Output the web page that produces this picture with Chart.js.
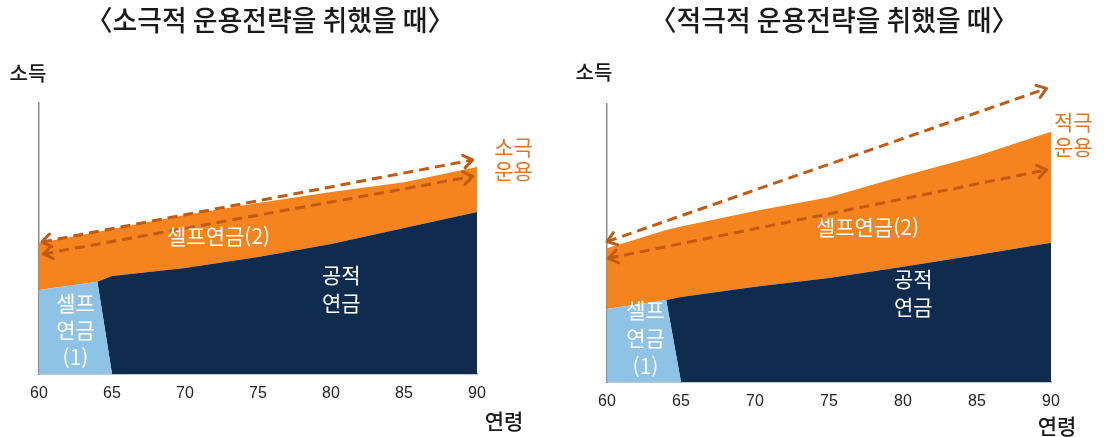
<!DOCTYPE html>
<html lang="ko">
<head>
<meta charset="utf-8">
<title>운용전략별 노후 소득</title>
<script src="https://cdn.jsdelivr.net/npm/chart.js@4.4.1/dist/chart.umd.min.js"></script>
<style>
  html, body { margin: 0; padding: 0; background: #fff; }
  .wrap { position: relative; width: 1104px; height: 437px; }
  canvas { position: absolute; top: 0; }
  #passive { left: 0; }
  #active { left: 552px; }
</style>
</head>
<body>
<div class="wrap">
  <canvas id="passive" width="552" height="437"></canvas>
  <canvas id="active" width="552" height="437"></canvas>
</div>
<script>
// 연령 (x축)
const ages = [60, 64, 65, 70, 75, 80, 85, 90];
const ageTicks = [60, 65, 70, 75, 80, 85, 90];

// 소극적 운용 : 셀프연금(1), 공적연금, 셀프연금(2) (누적)
const passiveSelf1 = [31, 34, 0, 0, 0, 0, 0, 0];
const passivePublic = [0, 0, 36.2, 39.1, 43.2, 48, 53.9, 59.8];
const passiveSelf2 = [17.3, 18.4, 17.3, 19.6, 19.9, 19.2, 16.9, 16.6];
const passiveArrowTop = [[60.2, 48.7], [89.7, 79.0]];
const passiveArrowBottom = [[60.3, 44.3], [89.7, 72.9]];

// 적극적 운용
const activeSelf1 = [26.3, 29.5, 0, 0, 0, 0, 0, 0];
const activePublic = [0, 0, 30.6, 34.3, 37.4, 41.5, 45.7, 50.1];
const activeSelf2 = [21.8, 25.2, 25.3, 27.2, 29.1, 32.6, 35.6, 39.9];
const activeArrowTop = [[60.0, 50.5], [89.7, 105.6]];
const activeArrowBottom = [[60.1, 44.5], [89.7, 76.3]];

const FONT = '"Noto Sans CJK KR", "Noto Sans", sans-serif';
const C_SELF1 = '#8ec3e6';
const C_PUBLIC = '#0f2b4e';
const C_SELF2 = '#f5841f';
const C_ARROW = '#c25a14';
const C_ORANGE_TEXT = '#d9782e';
const C_AXIS = '#8c8c8c';

const toPoints = (xs, ys) => xs.map((x, i) => ({ x, y: ys[i] }));

// 점선 양끝 화살촉
const arrowHeads = {
  id: 'arrowHeads',
  afterDatasetsDraw(chart) {
    const ctx = chart.ctx;
    chart.data.datasets.forEach((ds, i) => {
      if (!ds.arrow) return;
      const pts = chart.getDatasetMeta(i).data;
      const a = pts[0], b = pts[pts.length - 1];
      ctx.save();
      ctx.strokeStyle = ds.borderColor;
      ctx.lineWidth = ds.borderWidth;
      ctx.lineCap = 'round';
      ctx.lineJoin = 'round';
      [[a, b], [b, a]].forEach(([tip, from]) => {
        const ang = Math.atan2(tip.y - from.y, tip.x - from.x);
        const len = 11, spread = 0.62;
        ctx.beginPath();
        ctx.moveTo(tip.x - len * Math.cos(ang - spread), tip.y - len * Math.sin(ang - spread));
        ctx.lineTo(tip.x, tip.y);
        ctx.lineTo(tip.x - len * Math.cos(ang + spread), tip.y - len * Math.sin(ang + spread));
        ctx.stroke();
      });
      ctx.restore();
    });
  }
};

// 영역 안 글자, 제목, 축 이름
const textLabels = {
  id: 'textLabels',
  afterDraw(chart, args, opts) {
    const { ctx } = chart;
    const { x, y } = chart.scales;
    ctx.save();
    ctx.textAlign = 'center';
    ctx.textBaseline = 'middle';
    const drawLines = (text, cx, cy, lh) => {
      const lines = text.split('\n');
      lines.forEach((ln, k) => ctx.fillText(ln, cx, cy + (k - (lines.length - 1) / 2) * lh));
    };
    opts.items.forEach(it => {
      ctx.font = `${it.weight || 400} ${it.size}px ${FONT}`;
      ctx.fillStyle = it.color;
      drawLines(it.text, x.getPixelForValue(it.x), y.getPixelForValue(it.y), it.lineHeight || it.size);
    });
    opts.captions.forEach(c => {
      ctx.font = `${c.weight || 400} ${c.size}px ${FONT}`;
      ctx.fillStyle = c.color || '#1a1a1a';
      ctx.save();
      ctx.translate(c.px, c.py);
      ctx.scale(c.squeeze || 1, 1);
      ctx.fillText(c.text, 0, 0);
      ctx.restore();
    });
    ctx.restore();
  }
};

function makeChart(id, self1, pub, self2, arrowTop, arrowBottom, pad, items, captions) {
  const area = (label, data, color, fill) => ({
    label, data: toPoints(ages, data), stack: 'income', order: 2,
    backgroundColor: color, borderWidth: 0, pointRadius: 0, fill, tension: 0
  });
  // 점선은 영역 위에 그려지도록 order를 낮게
  const arrow = (label, pts) => ({
    label, data: pts.map(p => ({ x: p[0], y: p[1] })), stack: label, arrow: true, order: 0,
    borderColor: C_ARROW, borderWidth: 3, borderDash: [10, 6], borderCapStyle: 'butt',
    pointRadius: 0, fill: false, clip: false
  });

  return new Chart(document.getElementById(id), {
    type: 'line',
    data: {
      datasets: [
        area('셀프연금(1)', self1, C_SELF1, 'origin'),
        area('공적연금', pub, C_PUBLIC, '-1'),
        area('셀프연금(2)', self2, C_SELF2, '-1'),
        arrow('arrowTop', arrowTop),
        arrow('arrowBottom', arrowBottom)
      ]
    },
    options: {
      responsive: false,
      animation: false,
      layout: { padding: pad },
      plugins: {
        legend: { display: false },
        tooltip: { enabled: false },
        textLabels: { items, captions }
      },
      scales: {
        x: {
          type: 'linear', min: 60, max: 90,
          afterBuildTicks: s => { s.ticks = ageTicks.map(v => ({ value: v })); },
          afterFit: s => { s.height = 40; },
          grid: { display: false, drawTicks: false },
          border: { display: true, color: C_AXIS, width: 1.5 },
          ticks: { padding: 10, color: '#222', font: { family: '"Liberation Sans", Arial, sans-serif', size: 16 } }
        },
        y: {
          stacked: true, min: 0, max: 100,
          afterFit: s => { s.width = 0; },
          grid: { display: false, drawTicks: false },
          border: { display: true, color: C_AXIS, width: 1.5 },
          ticks: { display: false }
        }
      }
    },
    plugins: [arrowHeads, textLabels]
  });
}

makeChart('passive', passiveSelf1, passivePublic, passiveSelf2, passiveArrowTop, passiveArrowBottom,
  { left: 39, right: 75, top: 103, bottom: 23 },
  [
    { text: '셀프연금(2)', x: 72.3, y: 50.9, size: 21, color: '#ffffff' },
    { text: '공적\n연금', x: 80.7, y: 31.5, size: 21, lineHeight: 28, color: '#ffffff' },
    { text: '셀프\n연금\n(1)', x: 62.5, y: 16.2, size: 21, lineHeight: 27, color: '#ffffff' },
    { text: '소극\n운용', x: 92.5, y: 79.5, size: 21, lineHeight: 24, color: C_ORANGE_TEXT }
  ],
  [
    { text: '〈소극적 운용전략을 취했을 때〉', px: 270, py: 20, size: 28, squeeze: 0.96, weight: 500 },
    { text: '소득', px: 28, py: 73, size: 20, weight: 500 },
    { text: '연령', px: 504, py: 421, size: 21, weight: 500 }
  ]);

makeChart('active', activeSelf1, activePublic, activeSelf2, activeArrowTop, activeArrowBottom,
  { left: 55, right: 53, top: 104, bottom: 15 },
  [
    { text: '셀프연금(2)', x: 77.6, y: 55.9, size: 21, color: '#ffffff' },
    { text: '공적\n연금', x: 80.7, y: 32, size: 21, lineHeight: 28, color: '#ffffff' },
    { text: '셀프\n연금\n(1)', x: 62.6, y: 15.8, size: 21, lineHeight: 28, color: '#ffffff' },
    { text: '적극\n운용', x: 91.5, y: 89.2, size: 21, lineHeight: 25, color: C_ORANGE_TEXT }
  ],
  [
    { text: '〈적극적 운용전략을 취했을 때〉', px: 282, py: 20, size: 28, squeeze: 0.96, weight: 500 },
    { text: '소득', px: 42, py: 72, size: 20, weight: 500 },
    { text: '연령', px: 505, py: 426, size: 21, weight: 500 }
  ]);
</script>
</body>
</html>
